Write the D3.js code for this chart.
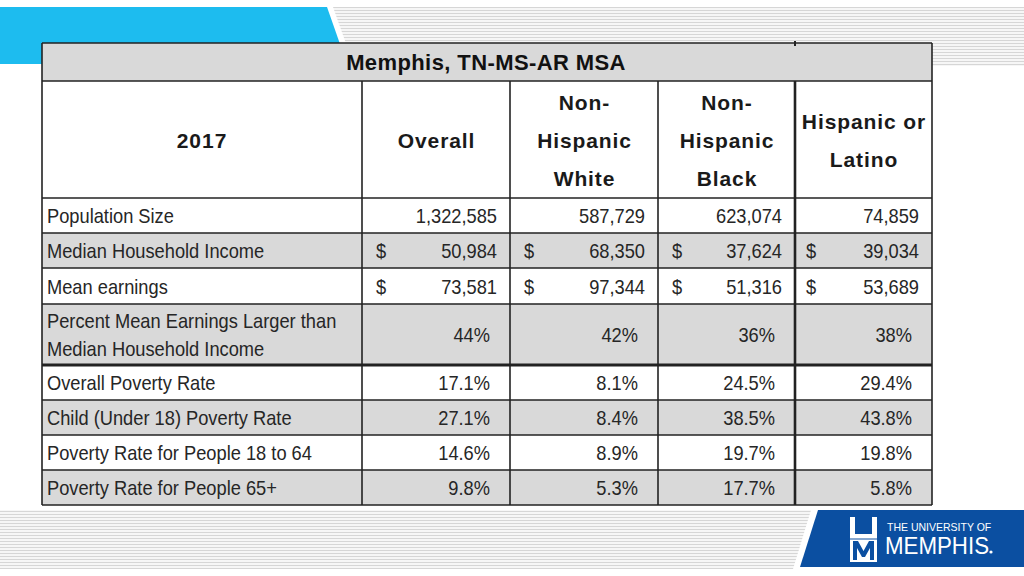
<!DOCTYPE html>
<html><head><meta charset="utf-8">
<script src="https://cdn.jsdelivr.net/npm/d3@7/dist/d3.min.js"></script>
<style>html,body{margin:0;padding:0;background:#fff;}svg{display:block;}</style>
</head><body>
<svg id="c" width="1024" height="576"></svg>
<script>
// ---- data ----
const title = "Memphis, TN-MS-AR MSA";
const yearLabel = "2017";
const columns = [["Overall"], ["Non-", "Hispanic", "White"], ["Non-", "Hispanic", "Black"], ["Hispanic or", "Latino"]];
const rowLabels = [["Population Size"], ["Median Household Income"], ["Mean earnings"],
  ["Percent Mean Earnings Larger than", "Median Household Income"], ["Overall Poverty Rate"],
  ["Child (Under 18) Poverty Rate"], ["Poverty Rate for People 18 to 64"], ["Poverty Rate for People 65+"]];
const rowFormats = ["count", "dollar", "dollar", "pct0", "pct1", "pct1", "pct1", "pct1"];
const overall   = [1322585, 50984, 73581, 0.44, 0.171, 0.271, 0.146, 0.098];
const nhWhite   = [587729, 68350, 97344, 0.42, 0.081, 0.084, 0.089, 0.053];
const nhBlack   = [623074, 37624, 51316, 0.36, 0.245, 0.385, 0.197, 0.177];
const hispanic  = [74859, 39034, 53689, 0.38, 0.294, 0.438, 0.198, 0.058];
const seriesValues = [overall, nhWhite, nhBlack, hispanic];

// ---- layout ----
const svg = d3.select("#c");
const defs = svg.append("defs");
const pat = defs.append("pattern").attr("id","hatch").attr("patternUnits","userSpaceOnUse")
  .attr("width",8).attr("height",3);
pat.append("rect").attr("width",8).attr("height",3).attr("fill","#f6f6f6");
pat.append("rect").attr("y",1).attr("width",8).attr("height",1).attr("fill","#d6d6d6");

// background decorations
svg.append("polygon").attr("points","0,7 327,7 347,64 0,64").attr("fill","#1dbcef");
svg.append("polygon").attr("points","333,7 1024,7 1024,66 354,66").attr("fill","url(#hatch)");
svg.append("polygon").attr("points","0,510 811,510 793,569 0,569").attr("fill","url(#hatch)");
svg.append("polygon").attr("points","818,510 1024,510 1024,567 800,567").attr("fill","#0b4fa1");

// logo
const logo = svg.append("g");
logo.append("rect").attr("x",850).attr("y",517).attr("width",27).attr("height",45).attr("fill","#fff");
logo.append("rect").attr("x",855).attr("y",517).attr("width",17).attr("height",17).attr("fill","#0b4fa1");
logo.append("path").attr("d","M853,560 L853,541 L858,541 L863.5,551 L869,541 L874,541 L874,560 L870,560 L870,548 L865,557 L862,557 L857,548 L857,560 Z").attr("fill","#0b4fa1");
logo.append("line").attr("x1",850).attr("x2",877).attr("y1",539).attr("y2",539).attr("stroke","#0b4fa1").attr("stroke-width",1);
logo.append("text").attr("x",887).attr("y",531).attr("font-family","Liberation Sans, Arial, sans-serif")
  .attr("font-size",10.5).attr("fill","#fff").text("THE UNIVERSITY OF");
logo.append("text").attr("x",885).attr("y",554).attr("font-family","Liberation Sans, Arial, sans-serif")
  .attr("font-size",24).attr("fill","#fff").attr("textLength",104).attr("lengthAdjust","spacingAndGlyphs").text("MEMPHIS");
logo.append("circle").attr("cx",991).attr("cy",552).attr("r",1.6).attr("fill","#fff");

// table scales
const colEdges = [42, 362, 510, 658, 795, 932];
const x = d3.scaleOrdinal().domain(["label", 0, 1, 2, 3]).range(colEdges.slice(0, 5));
const colRight = d3.scaleOrdinal().domain(["label", 0, 1, 2, 3]).range(colEdges.slice(1));
const rowEdges = [43, 81, 198, 233, 268, 304, 365, 400, 435, 470, 505];
const rowKeys = ["title", "header"].concat(d3.range(rowLabels.length));
const yTop = d3.scaleOrdinal().domain(rowKeys).range(rowEdges.slice(0, -1));
const yBot = d3.scaleOrdinal().domain(rowKeys).range(rowEdges.slice(1));
const L = colEdges[0], R = colEdges[colEdges.length - 1];

const bodyFont = "'Liberation Sans', Arial, sans-serif";
const headFont = "'Liberation Sans', Arial, sans-serif";
const txtColor = "#262626";
const gray = "#d9d9d9";
const SX = 0.87, FS = 21;

// condensed body text helper
function bodyText(parent, px, py, str, anchor){
  return parent.append("text").attr("transform",`translate(${px},${py}) scale(${SX},1)`)
    .attr("text-anchor",anchor||"start").attr("font-family",bodyFont).attr("font-size",FS)
    .attr("fill",txtColor).text(str);
}

const tbl = svg.append("g");
// row backgrounds
tbl.append("rect").attr("x",L).attr("y",yTop("title")).attr("width",R-L)
  .attr("height",yBot("title")-yTop("title")).attr("fill",gray);
tbl.append("rect").attr("x",L).attr("y",yTop("header")).attr("width",R-L)
  .attr("height",yBot("header")-yTop("header")).attr("fill","#fff");
tbl.selectAll("rect.row").data(d3.range(rowLabels.length)).join("rect").attr("class","row")
  .attr("x",L).attr("y",d=>yTop(d)).attr("width",R-L).attr("height",d=>yBot(d)-yTop(d))
  .attr("fill",d=>d%2===1?gray:"#fff");

// title
tbl.append("text").attr("x",(L+R)/2-1).attr("y",(yTop("title")+yBot("title"))/2+8)
  .attr("text-anchor","middle").attr("font-family",headFont).attr("font-weight","bold")
  .attr("font-size",22).attr("letter-spacing",0.4).attr("fill","#111").text(title);

// header
const hMid = (yTop("header")+yBot("header"))/2;
tbl.append("text").attr("x",(x("label")+colRight("label"))/2).attr("y",hMid+8)
  .attr("text-anchor","middle").attr("font-family",headFont).attr("font-weight","bold")
  .attr("font-size",21).attr("letter-spacing",1).attr("fill","#1a1a1a").text(yearLabel);
columns.forEach((lines,i)=>{
  const cx = (x(i)+colRight(i))/2;
  const lh = 38;
  const t = tbl.append("text").attr("text-anchor","middle").attr("font-family",headFont)
    .attr("font-weight","bold").attr("font-size",21).attr("letter-spacing",0.9).attr("fill","#1a1a1a");
  lines.forEach((ln,k)=>{
    t.append("tspan").attr("x",cx+0.5).attr("y",hMid+8+(k-(lines.length-1)/2)*lh).text(ln);
  });
});

// row labels
rowLabels.forEach((lines,r)=>{
  const mid = (yTop(r)+yBot(r))/2;
  lines.forEach((ln,k)=>{
    bodyText(tbl, x("label")+5, mid+7.5+(k-(lines.length-1)/2)*28, ln);
  });
});

// values
const fmtCount = d3.format(",");
const fmtPct0 = d3.format(".0%");
const fmtPct1 = d3.format(".1%");
seriesValues.forEach((vals,c)=>{
  vals.forEach((v,r)=>{
    const mid = (yTop(r)+yBot(r))/2;
    const f = rowFormats[r];
    let s, pad;
    if (f==="count" || f==="dollar"){ s=fmtCount(v); pad=13; }
    else if (f==="pct0"){ s=fmtPct0(v); pad=20; }
    else { s=fmtPct1(v); pad=20; }
    bodyText(tbl, colRight(c)-pad, mid+7.5, s, "end");
    if (f==="dollar"){
      bodyText(tbl, x(c)+(c===3?11:14), mid+7.5, "$");
    }
  });
});

// grid lines
const lineCol = "#222";
rowEdges.forEach((y)=>{
  const w = (y===365) ? 3 : 1.6;
  tbl.append("line").attr("x1",L).attr("x2",R).attr("y1",y).attr("y2",y)
    .attr("stroke",lineCol).attr("stroke-width",w);
});
tbl.append("line").attr("x1",L).attr("x2",L).attr("y1",43).attr("y2",505).attr("stroke",lineCol).attr("stroke-width",1.6);
tbl.append("line").attr("x1",R).attr("x2",R).attr("y1",43).attr("y2",505).attr("stroke",lineCol).attr("stroke-width",1.6);
colEdges.slice(1,-1).forEach((cx)=>{
  const w = (cx===795) ? 2.6 : 1.6;
  tbl.append("line").attr("x1",cx).attr("x2",cx).attr("y1",81).attr("y2",505).attr("stroke",lineCol).attr("stroke-width",w);
});
tbl.append("line").attr("x1",795).attr("x2",795).attr("y1",41).attr("y2",46).attr("stroke",lineCol).attr("stroke-width",2);
</script>
</body></html>
